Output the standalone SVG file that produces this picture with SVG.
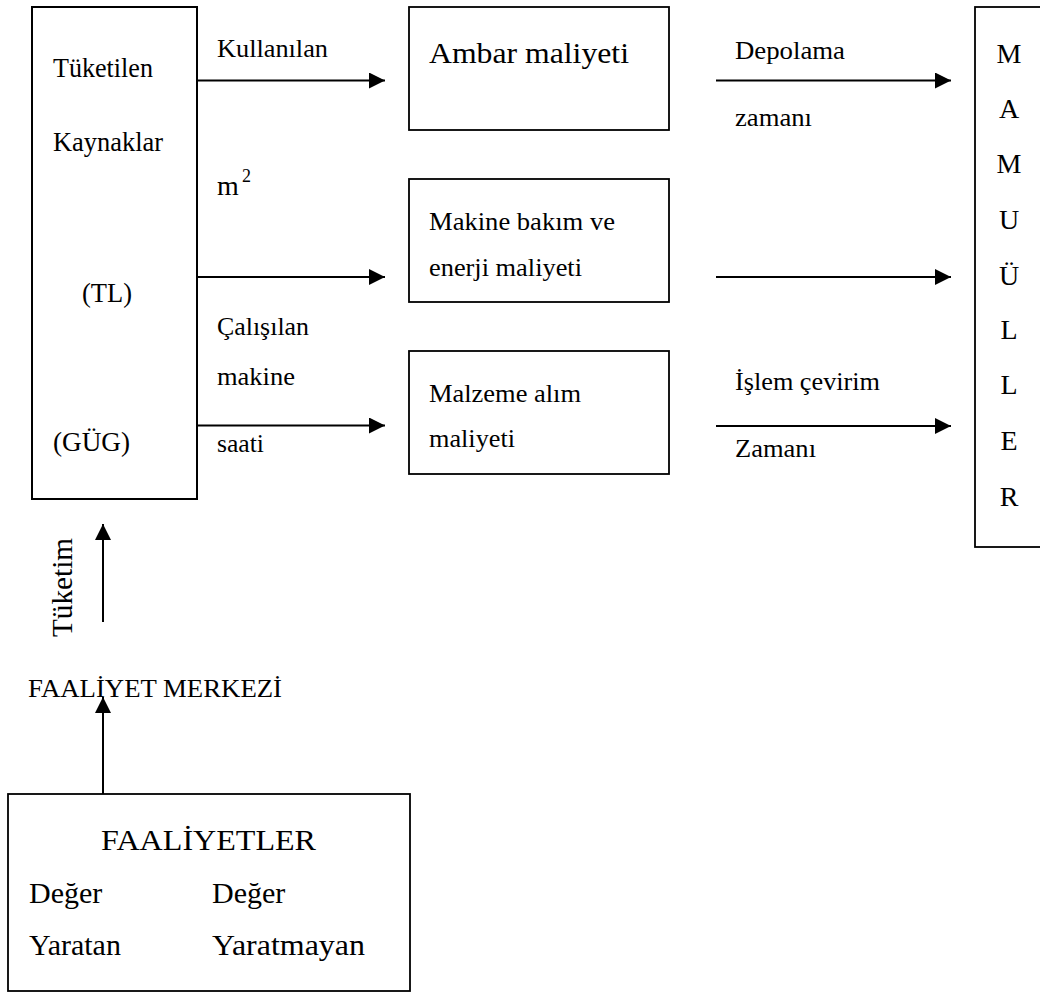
<svg xmlns="http://www.w3.org/2000/svg" width="1040" height="992" viewBox="0 0 1040 992">
<style>
text{font-family:"Times New Roman","Liberation Serif","DejaVu Serif",serif;font-style:normal;font-weight:normal;fill:#000}
.box{fill:none;stroke:#000;stroke-width:1.8}
.arr{stroke:#000;stroke-width:2;fill:none;marker-end:url(#ah)}
.m{text-anchor:middle;font-size:28px}
</style>
<defs>
<marker id="ah" viewBox="0 0 10 10" refX="10" refY="5" markerWidth="8" markerHeight="8" orient="auto" markerUnits="strokeWidth">
<path d="M0,0 L10,5 L0,10 z" fill="#000"/>
</marker>
</defs>
<rect width="1040" height="992" fill="#fff"/>
<g id="connectors">
<line class="arr" x1="197" y1="80.5" x2="385" y2="80.5"/>
<line class="arr" x1="197" y1="277" x2="385" y2="277"/>
<line class="arr" x1="197" y1="425.5" x2="385" y2="425.5"/>
<line class="arr" x1="716" y1="80.5" x2="951" y2="80.5"/>
<line class="arr" x1="716" y1="277" x2="951" y2="277"/>
<line class="arr" x1="716" y1="426" x2="951" y2="426"/>
<line class="arr" x1="103" y1="622" x2="103" y2="524"/>
<line class="arr" x1="103" y1="794" x2="103" y2="697"/>
</g>
<g id="labels">
<text font-size="26" x="217" y="57" textLength="111" lengthAdjust="spacingAndGlyphs">Kullanılan</text>
<text font-size="28" x="217" y="195">m</text>
<text font-size="18" x="242" y="182">2</text>
<text font-size="26" x="217" y="335" textLength="92" lengthAdjust="spacingAndGlyphs">Çalışılan</text>
<text font-size="26" x="217" y="385" textLength="78" lengthAdjust="spacingAndGlyphs">makine</text>
<text font-size="26" x="217" y="452" textLength="47" lengthAdjust="spacingAndGlyphs">saati</text>
<text font-size="25" x="735" y="59" textLength="110" lengthAdjust="spacingAndGlyphs">Depolama</text>
<text font-size="25" x="735" y="126" textLength="77" lengthAdjust="spacingAndGlyphs">zamanı</text>
<text font-size="25" x="735" y="390" textLength="145" lengthAdjust="spacingAndGlyphs">İşlem çevirim</text>
<text font-size="25" x="735" y="457" textLength="81" lengthAdjust="spacingAndGlyphs">Zamanı</text>
<text font-size="30" transform="translate(72,637) rotate(-90)" textLength="99" lengthAdjust="spacingAndGlyphs">Tüketim</text>
<text font-size="26" x="28" y="697" textLength="254" lengthAdjust="spacingAndGlyphs">FAALİYET MERKEZİ</text>
</g>
<g id="kaynaklar">
<rect class="box" x="32" y="7" width="165" height="492" style="stroke-width:2"/>
<text font-size="28" x="53" y="77" textLength="100" lengthAdjust="spacingAndGlyphs">Tüketilen</text>
<text font-size="28" x="53" y="151" textLength="110" lengthAdjust="spacingAndGlyphs">Kaynaklar</text>
<text font-size="28" x="82" y="302" textLength="50" lengthAdjust="spacingAndGlyphs">(TL)</text>
<text font-size="28" x="53" y="451" textLength="77" lengthAdjust="spacingAndGlyphs">(GÜG)</text>
</g>
<g id="ambar">
<rect class="box" x="409" y="7" width="260" height="123"/>
<text font-size="30" x="429" y="63" textLength="200" lengthAdjust="spacingAndGlyphs">Ambar maliyeti</text>
</g>
<g id="makine">
<rect class="box" x="409" y="179" width="260" height="123"/>
<text font-size="26" x="429" y="230" textLength="186" lengthAdjust="spacingAndGlyphs">Makine bakım ve</text>
<text font-size="26" x="429" y="276" textLength="153" lengthAdjust="spacingAndGlyphs">enerji maliyeti</text>
</g>
<g id="malzeme">
<rect class="box" x="409" y="351" width="260" height="123"/>
<text font-size="26" x="429" y="402" textLength="152" lengthAdjust="spacingAndGlyphs">Malzeme alım</text>
<text font-size="26" x="429" y="447" textLength="86" lengthAdjust="spacingAndGlyphs">maliyeti</text>
</g>
<g id="mamuller">
<rect class="box" x="975" y="7" width="80" height="540"/>
<text class="m" x="1009" y="63">M</text>
<text class="m" x="1009" y="118">A</text>
<text class="m" x="1009" y="173">M</text>
<text class="m" x="1009" y="229">U</text>
<text class="m" x="1009" y="285">Ü</text>
<text class="m" x="1009" y="339">L</text>
<text class="m" x="1009" y="394">L</text>
<text class="m" x="1009" y="450">E</text>
<text class="m" x="1009" y="506">R</text>
</g>
<g id="faaliyetler">
<rect class="box" x="8" y="794" width="402" height="197"/>
<text font-size="30" x="101" y="850" textLength="215" lengthAdjust="spacingAndGlyphs">FAALİYETLER</text>
<text font-size="30" x="29" y="903">Değer</text>
<text font-size="30" x="212" y="903">Değer</text>
<text font-size="30" x="29" y="955">Yaratan</text>
<text font-size="30" x="212" y="955" textLength="153" lengthAdjust="spacingAndGlyphs">Yaratmayan</text>
</g>
</svg>
